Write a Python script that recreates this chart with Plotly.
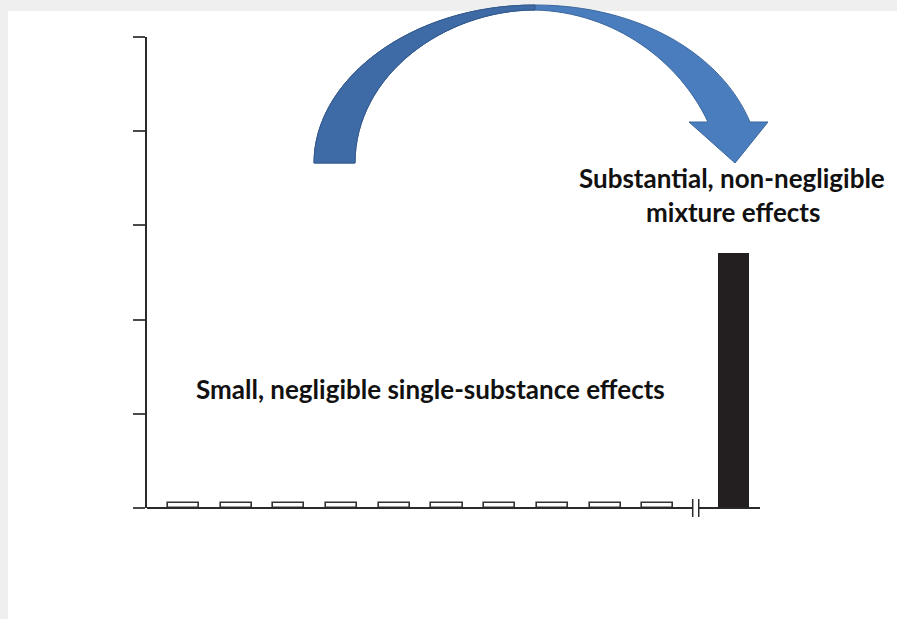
import plotly.graph_objects as go

# ---- data ----
single_labels = [f"S{i}" for i in range(1, 11)]
single_pos = [1, 2, 3, 4, 5, 6, 7, 8, 9, 10]
single_values = [0.05] * 10
mixture_label = ["Mixture"]
mixture_pos = [11.44]
mixture_values = [2.71]
y_ticks = [0, 1, 2, 3, 4, 5]
break_at = 10.72

W, H = 897, 619
def X(px): return px / W
def Y(py): return 1 - py / H
def pt(px, py): return f"{X(px):.5f},{Y(py):.5f}"

fig = go.Figure()
fig.add_trace(go.Bar(
    x=single_pos, y=single_values, width=0.59, text=single_labels, textposition="none",
    marker=dict(color="white", line=dict(color="#333333", width=1.6)),
    hoverinfo="skip", showlegend=False))
fig.add_trace(go.Bar(
    x=mixture_pos, y=mixture_values, width=0.59, text=mixture_label, textposition="none",
    marker=dict(color="#231f20", line=dict(width=0)),
    hoverinfo="skip", showlegend=False))

xr = [0.307, 11.94]
ydom = [Y(508), Y(37)]
shapes = []
# gray frame strips
shapes.append(dict(type="rect", xref="paper", yref="paper", x0=0, x1=1, y0=Y(11), y1=1,
                   fillcolor="#efefef", line=dict(width=0), layer="below"))
shapes.append(dict(type="rect", xref="paper", yref="paper", x0=0, x1=X(8), y0=0, y1=1,
                   fillcolor="#efefef", line=dict(width=0), layer="below"))
# x axis line with break
ax_col = "#2a2a2a"
gap = 0.057
shapes.append(dict(type="line", xref="x", yref="paper", x0=xr[0], x1=break_at - gap,
                   y0=ydom[0], y1=ydom[0], line=dict(color=ax_col, width=2)))
shapes.append(dict(type="line", xref="x", yref="paper", x0=break_at + gap, x1=xr[1],
                   y0=ydom[0], y1=ydom[0], line=dict(color=ax_col, width=2)))
for s in (-1, 1):
    shapes.append(dict(type="line", xref="x", yref="paper", x0=break_at + s * gap, x1=break_at + s * gap,
                       y0=Y(517), y1=Y(499), line=dict(color=ax_col, width=1.5)))

# curved arrow
full = ("M " + pt(314, 163) + " C " + pt(314, 80) + " " + pt(410, 5) + " " + pt(535, 5) +
        " C " + pt(640, 5) + " " + pt(722, 55) + " " + pt(750, 122) +
        " L " + pt(768, 122) + " L " + pt(735, 163) + " L " + pt(689, 122) + " L " + pt(708, 122) +
        " C " + pt(680, 62) + " " + pt(615, 12) + " " + pt(535, 10) +
        " C " + pt(445, 10) + " " + pt(355, 75) + " " + pt(355, 163) + " Z")
shapes.append(dict(type="path", xref="paper", yref="paper", path=full,
                   fillcolor="#4a7dbd", line=dict(color="#3c679e", width=1)))
left = ("M " + pt(314, 163) + " C " + pt(314, 80) + " " + pt(410, 5) + " " + pt(535, 5) +
        " L " + pt(535, 10) +
        " C " + pt(445, 10) + " " + pt(355, 75) + " " + pt(355, 163) + " Z")
shapes.append(dict(type="path", xref="paper", yref="paper", path=left,
                   fillcolor="#3e6aa5", line=dict(color="#34598c", width=1)))

font = dict(family="Lato, 'Open Sans', sans-serif", size=26, color="#111111")
annotations = [
    dict(xref="paper", yref="paper", x=X(732), y=Y(178), text="<b>Substantial, non-negligible</b>",
         showarrow=False, xanchor="center", yanchor="middle", font=font),
    dict(xref="paper", yref="paper", x=X(733), y=Y(212), text="<b>mixture effects</b>",
         showarrow=False, xanchor="center", yanchor="middle", font=font),
    dict(xref="paper", yref="paper", x=X(430), y=Y(389), text="<b>Small, negligible single-substance effects</b>",
         showarrow=False, xanchor="center", yanchor="middle", font=font),
]

fig.update_layout(
    width=W, height=H, margin=dict(l=0, r=0, t=0, b=0),
    paper_bgcolor="white", plot_bgcolor="white",
    shapes=shapes, annotations=annotations, bargap=0,
    xaxis=dict(domain=[X(147), X(760)], range=xr, showline=False, showgrid=False,
               zeroline=False, showticklabels=False, ticks="", fixedrange=True),
    yaxis=dict(domain=ydom, range=[0, 5], tickvals=y_ticks, showline=True, linecolor=ax_col,
               linewidth=2, ticks="outside", ticklen=12, tickwidth=2, tickcolor="#4a4a4a",
               showgrid=False, zeroline=False, showticklabels=False, fixedrange=True),
)
fig.write_html("out.html", config={"displayModeBar": False},
               post_script="document.body.style.margin='0';document.body.style.overflow='hidden';")
